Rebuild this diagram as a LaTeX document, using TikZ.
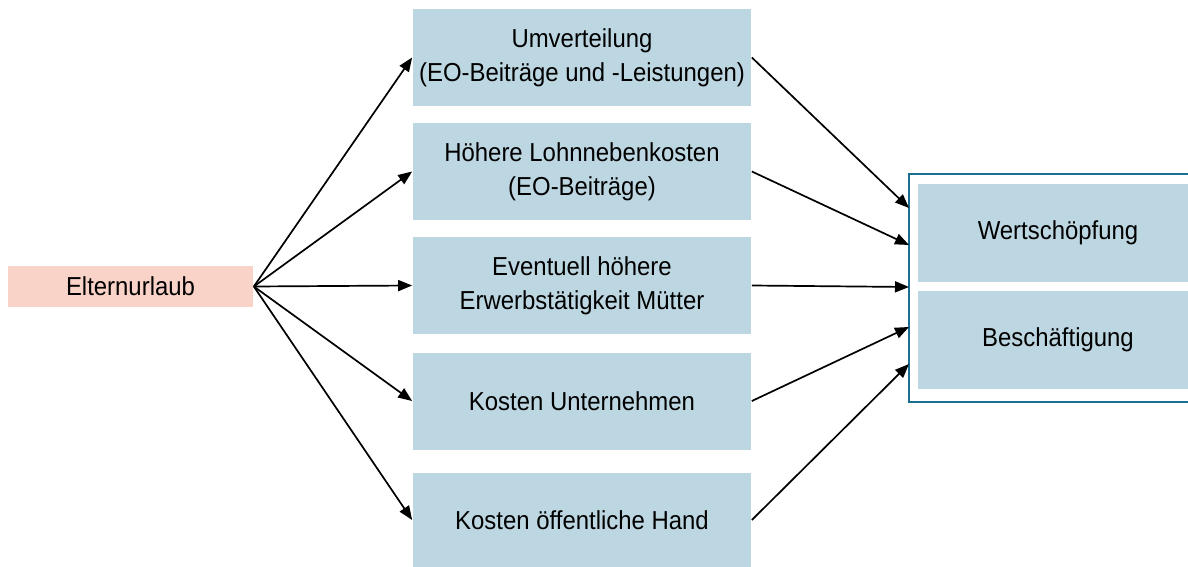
\documentclass[tikz,border=0pt]{standalone}
\usepackage{fontspec}
\setmainfont{Liberation Sans}[FakeStretch=0.92]
\usetikzlibrary{arrows.meta}

\definecolor{boxblue}{RGB}{189,215,226}
\definecolor{boxpink}{RGB}{250,211,200}
\definecolor{frameteal}{RGB}{26,112,144}

\tikzset{every picture/.style={line width=1.7pt},
	effect/.style={fill=boxblue, minimum width=338pt, minimum height=97pt, inner sep=0pt, align=center,
		font=\fontsize{26}{34}\selectfont},
	cause/.style={fill=boxpink, minimum width=245pt, minimum height=41pt, inner sep=0pt,
		font=\fontsize{26}{34}\selectfont},
	link/.style={-{Triangle[length=14pt,width=11pt]}, black}
}

\begin{document}
\begin{tikzpicture}[x=1pt,y=-1pt]
		\clip (0,0) rectangle (1188,567);
		\fill[white] (0,0) rectangle (1188,567);

		\node[cause] (eltern) at (130.5,286.5) {Elternurlaub};

		\node[effect] (umv) at (582,57.5) {Umverteilung\\(EO-Beiträge und -Leistungen)};
		\node[effect] (lnk) at (582,171.5) {Höhere Lohnnebenkosten\\(EO-Beiträge)};
		\node[effect] (erw) at (582,285.5) {Eventuell höhere\\Erwerbstätigkeit Mütter};
		\node[effect] (unt) at (582,401) {Kosten Unternehmen};
		\node[effect, minimum height=94pt] (hand) at (582,520) {Kosten öffentliche Hand};

		% rechter Block
		\draw[frameteal, line width=1.8pt] (909,174) rectangle (1200,402);
		\node[effect, minimum width=280pt, minimum height=98pt] (wert) at (1058,233) {Wertschöpfung};
		\node[effect, minimum width=280pt, minimum height=98pt] (besch) at (1058,340) {Beschäftigung};

		\coordinate (in1) at (909,208);
		\coordinate (in2) at (909,245);
		\coordinate (in3) at (909,287);
		\coordinate (in4) at (909,327);
		\coordinate (in5) at (909,364);

		\foreach \b in {umv,lnk,erw,unt,hand}
			\draw[link] (eltern.east) -- (\b.west);

		\draw[link] (umv.east) -- (in1);
		\draw[link] (lnk.east) -- (in2);
		\draw[link] (erw.east) -- (in3);
		\draw[link] (unt.east) -- (in4);
		\draw[link] (hand.east) -- (in5);
	\end{tikzpicture}
\end{document}
